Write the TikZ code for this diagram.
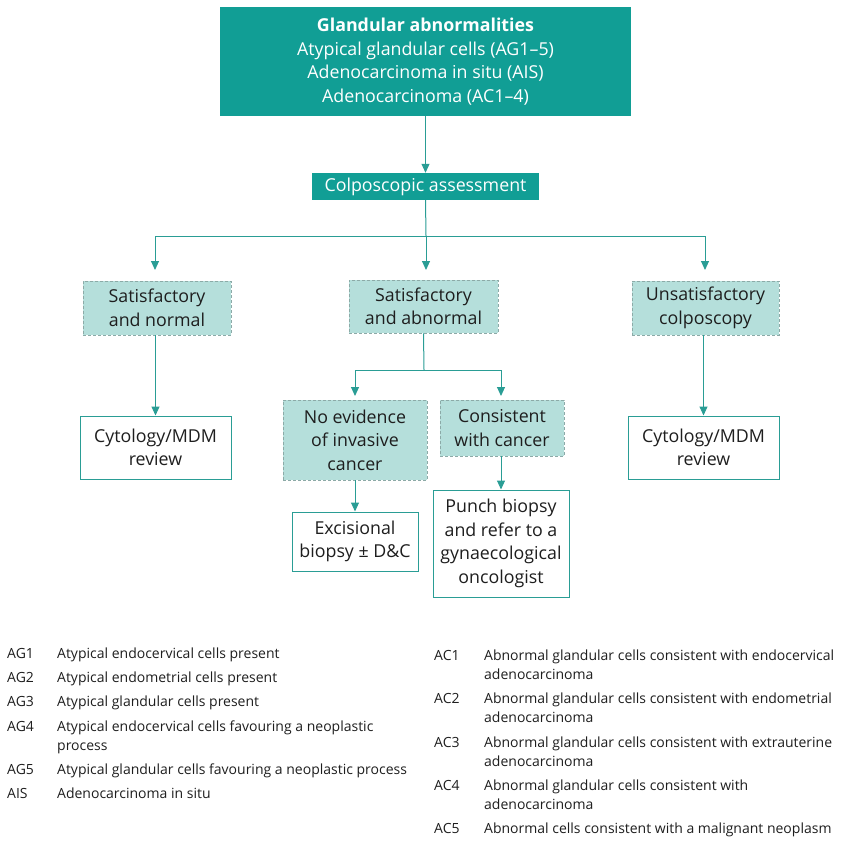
\documentclass[tikz,border=0pt]{standalone}
\usepackage{fontspec}
\setmainfont{Open Sans}
\usetikzlibrary{arrows.meta}
\definecolor{teal1}{HTML}{119E95}
\definecolor{tealL}{HTML}{B5DFDB}
\definecolor{tealLine}{HTML}{2A9D95}
\definecolor{dashc}{HTML}{8CAAA7}
\definecolor{txt}{HTML}{1E1E1E}
\tikzset{
  boxfont/.style={font=\fontsize{17.8}{23.5}\selectfont},
  darkbox/.style={fill=teal1, draw=none, text=white, align=center, inner sep=0pt, boxfont},
  lightbox/.style={fill=tealL, draw=dashc, dashed, dash pattern=on 3pt off 2pt, line width=0.8pt, text=txt, align=center, inner sep=0pt, boxfont},
  whitebox/.style={fill=white, draw=tealLine, line width=1pt, text=txt, align=center, inner sep=0pt, boxfont},
  conn/.style={draw=tealLine, line width=1pt},
  arr/.style={conn, -{Triangle[length=9pt,width=8pt]}},
  legend/.style={anchor=base west, inner sep=0pt, text=txt, font=\fontsize{14}{19}\selectfont}
}
\newcommand{\legrow}[2]{\begin{tabular}[t]{@{}p{50pt}@{}l@{}}#1 & #2\end{tabular}}
\begin{document}
\begin{tikzpicture}[x=1pt,y=-1pt]
\useasboundingbox (0,0) rectangle (847,850);
% boxes
\node[darkbox, minimum width=411pt, minimum height=109pt] (top) at (425.5,61.5)
  {\textbf{Glandular abnormalities}\\Atypical glandular cells (AG1–5)\\Adenocarcinoma in situ (AIS)\\Adenocarcinoma (AC1–4)};
\node[darkbox, minimum width=227pt, minimum height=27pt] (colp) at (425.5,186.5) {Colposcopic assessment};
\node[lightbox, minimum width=148pt, minimum height=54pt] (sn) at (157,308) {Satisfactory\\and normal};
\node[lightbox, minimum width=149pt, minimum height=53pt] (sa) at (423.5,306.5) {Satisfactory\\and abnormal};
\node[lightbox, minimum width=147pt, minimum height=54pt] (us) at (705.5,308) {Unsatisfactory\\colposcopy};
\node[whitebox, minimum width=151pt, minimum height=63pt] (cyl) at (155.5,447.5) {Cytology/MDM\\review};
\node[whitebox, minimum width=151pt, minimum height=63pt] (cyr) at (703.5,447.5) {Cytology/MDM\\review};
\node[lightbox, minimum width=144pt, minimum height=80pt] (ne) at (355,440) {No evidence\\of invasive\\cancer};
\node[lightbox, minimum width=124pt, minimum height=56pt] (cc) at (502,428) {Consistent\\with cancer};
\node[whitebox, minimum width=126pt, minimum height=59pt] (ex) at (355,541.5) {Excisional\\biopsy ± D\&C};
\node[whitebox, minimum width=136pt, minimum height=107pt] (pb) at (501,543.5) {Punch biopsy\\and refer to a\\gynaecological\\oncologist};
% connectors
\draw[arr] (top.south) -- (colp.north);
\coordinate (j1) at (426,236);
\draw[conn] (colp.south) -- (j1);
\draw[conn] (155,236) -- (705,236);
\draw[arr] (155,236) -- (155,270);
\draw[arr] (j1) -- (426,270);
\draw[arr] (705,236) -- (705,270);
\draw[arr] (sn.south -| cyl.north) -- (cyl.north);
\draw[arr] (us.south -| cyr.north) -- (cyr.north);
\coordinate (j2) at (424,370);
\draw[conn] (sa.south) -- (j2);
\draw[conn] (355,370) -- (501,370);
\draw[arr] (355,370) -- (355,396);
\draw[arr] (501,370) -- (501,396);
\draw[arr] (ne.south -| ex.north) -- (ex.north);
\draw[arr] (cc.south -| pb.north) -- (pb.north);
% legend left
\node[legend] (l1) at (7,658) {\legrow{AG1}{Atypical endocervical cells present}};
\node[legend] (l2) at (7,682) {\legrow{AG2}{Atypical endometrial cells present}};
\node[legend] (l3) at (7,706) {\legrow{AG3}{Atypical glandular cells present}};
\node[legend] (l4) at (7,731) {\legrow{AG4}{Atypical endocervical cells favouring a neoplastic\\ & process}};
\node[legend] (l5) at (7,774) {\legrow{AG5}{Atypical glandular cells favouring a neoplastic process}};
\node[legend] (l6) at (7,798) {\legrow{AIS}{Adenocarcinoma in situ}};
% legend right
\node[legend] (r1) at (434,660) {\legrow{AC1}{Abnormal glandular cells consistent with endocervical\\ & adenocarcinoma}};
\node[legend] (r2) at (434,703) {\legrow{AC2}{Abnormal glandular cells consistent with endometrial\\ & adenocarcinoma}};
\node[legend] (r3) at (434,747) {\legrow{AC3}{Abnormal glandular cells consistent with extrauterine\\ & adenocarcinoma}};
\node[legend] (r4) at (434,790) {\legrow{AC4}{Abnormal glandular cells consistent with\\ & adenocarcinoma}};
\node[legend] (r5) at (434,833) {\legrow{AC5}{Abnormal cells consistent with a malignant neoplasm}};
\end{tikzpicture}
\end{document}
